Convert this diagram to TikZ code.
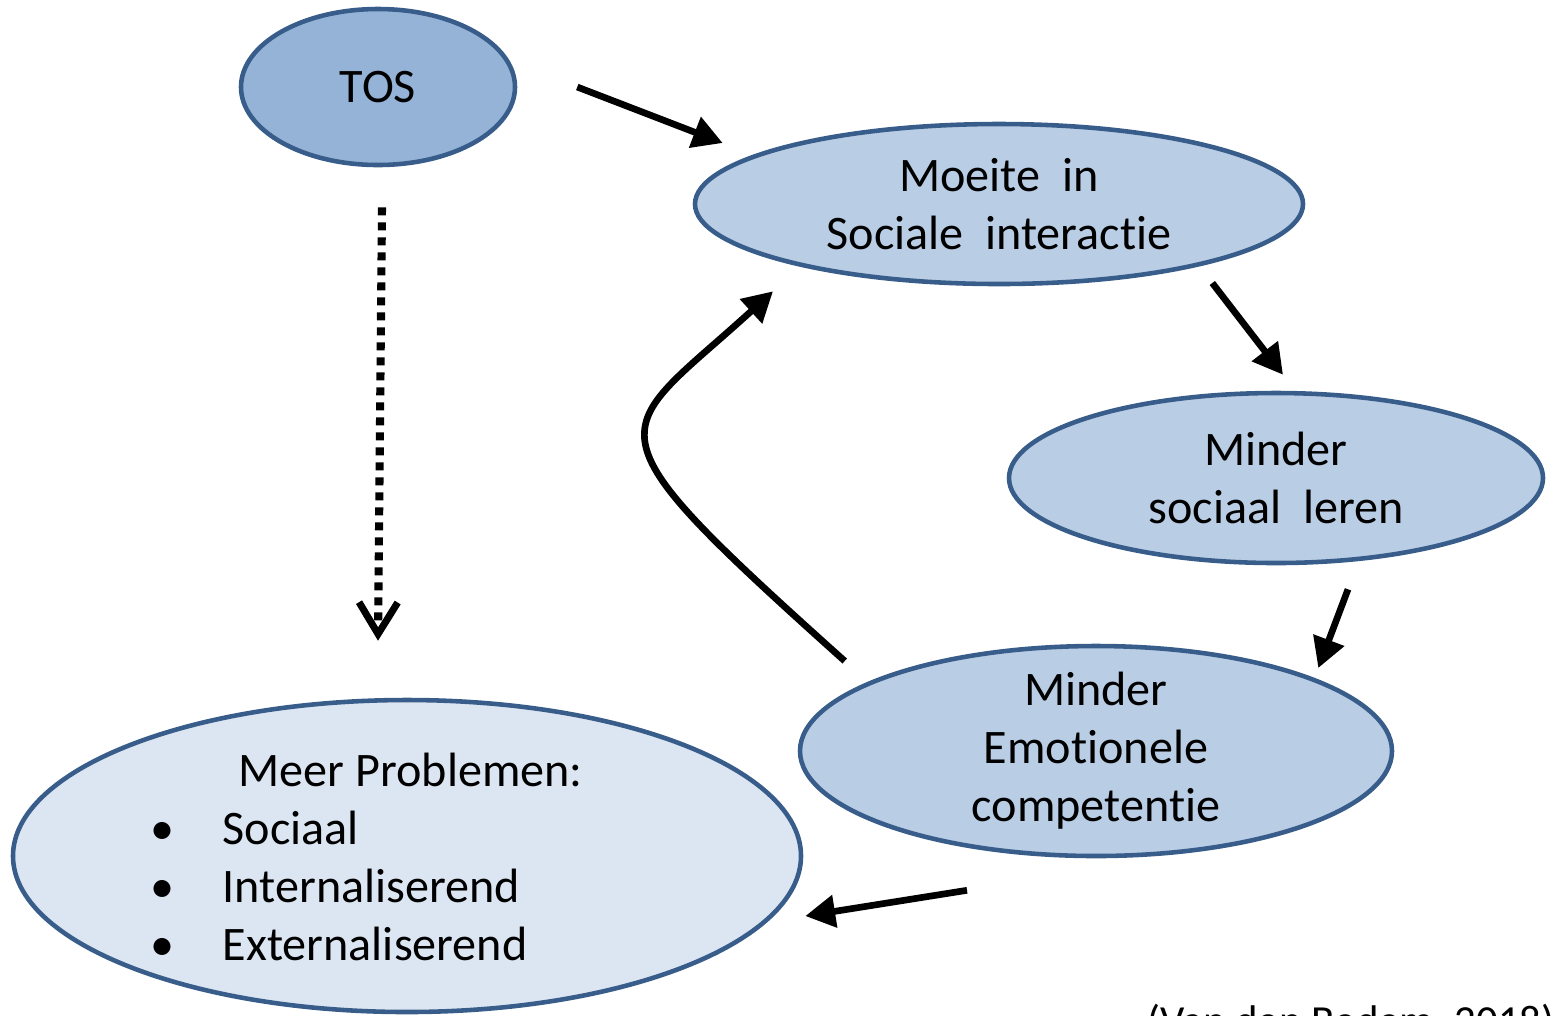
\documentclass[tikz,border=0pt]{standalone}
\usepackage{fontspec}
\setmainfont{Carlito}[Ligatures=NoCommon]
\usetikzlibrary{shapes.geometric,arrows.meta}
\definecolor{tosblue}{HTML}{95B3D7}
\definecolor{midblue}{HTML}{B9CDE5}
\definecolor{paleblue}{HTML}{DCE6F2}
\definecolor{rimblue}{HTML}{385D8A}
\begin{document}
\begin{tikzpicture}[
    bubble/.style={ellipse, draw=rimblue, line width=1.3pt, inner sep=0pt,
      align=center, font=\fontsize{13.7}{16.5}\selectfont},
    txt/.style={font=\fontsize{13.7}{16.5}\selectfont, inner sep=0pt},
    arr/.style={line width=1.9pt, -{Triangle[length=8.5pt,width=9pt]}},
  ]
  \useasboundingbox (0,0) rectangle (15.56,-10.15);
  \node[bubble, fill=tosblue, minimum width=2.74cm, minimum height=1.56cm] (tos) at (3.78,-0.87) {TOS};
  \node[bubble, fill=midblue, minimum width=6.08cm, minimum height=1.60cm] (moeite) at (9.99,-2.04) {Moeite\ \ in\\Sociale\ \ interactie};
  \node[bubble, fill=midblue, minimum width=5.34cm, minimum height=1.70cm] (sociaal) at (12.76,-4.78) {Minder\\sociaal\ \ leren};
  \node[bubble, fill=midblue, inner ysep=-3mm, minimum width=5.92cm, minimum height=2.10cm] (emotie) at (10.96,-7.51) {Minder\\Emotionele\\competentie};
  \node[bubble, fill=paleblue, minimum width=7.88cm, minimum height=3.12cm] (problemen) at (4.07,-8.56) {};
  \node[txt, align=left, anchor=west] (probtxt) at (1.50,-8.57)
    {\hspace*{0.88cm}Meer Problemen:\\
     \makebox[0.72cm][l]{\textbullet}Sociaal\\
     \makebox[0.72cm][l]{\textbullet}Internaliserend\\
     \makebox[0.72cm][l]{\textbullet}Externaliserend};
  \node[txt, font=\fontsize{12.2}{14}\selectfont, anchor=base west] (bron) at (11.47,-10.35) {(Van den Bedem, 2018)};

  \draw[arr] ([xshift=6mm]tos.east) -- ([xshift=3mm,yshift=6.1mm]moeite.west);
  \draw[arr] ([xshift=-9.3mm,yshift=-7.9mm]moeite.east) -- ([xshift=0.7mm,yshift=1.6mm]sociaal.north);
  \draw[arr] ([xshift=7.2mm,yshift=-2.4mm]sociaal.south) -- ([xshift=-7.6mm,yshift=8.3mm]emotie.east);
  \draw[arr] ([xshift=-12.9mm,yshift=-3.2mm]emotie.south) -- ([xshift=0.2mm,yshift=-6mm]problemen.east);
  \draw[arr] ([xshift=4.7mm,yshift=9mm]emotie.west)
    .. controls (5.76,-4.20) and (6.12,-4.38) .. ([xshift=-22.6mm,yshift=-0.5mm]moeite.south);
  \draw[line width=2.3pt, dash pattern=on 0.08cm off 0.07cm,
    -{Straight Barb[length=9pt,width=11pt,line width=2pt]}]
    ([xshift=0.4mm,yshift=-4mm]tos.south) -- ([xshift=-2.9mm,yshift=5.7mm]problemen.north);
\end{tikzpicture}
\end{document}
